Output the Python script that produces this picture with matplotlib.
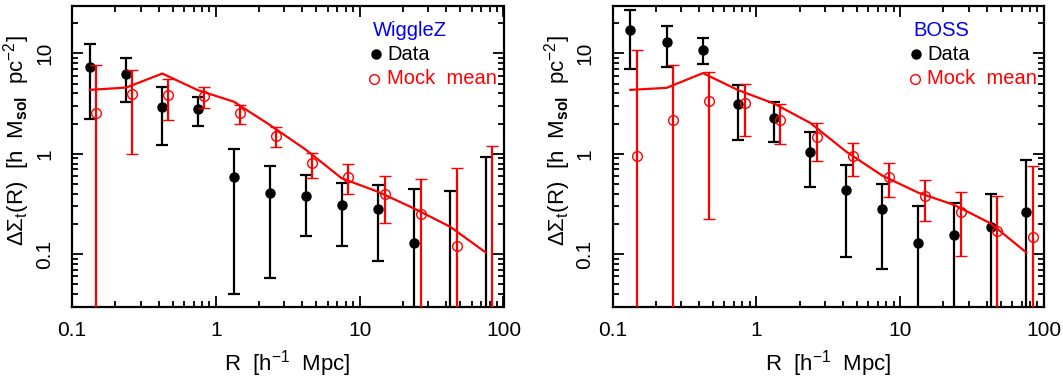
import numpy as np
import matplotlib
matplotlib.use("Agg")
import matplotlib.pyplot as plt

plt.rcParams['font.family'] = ['Liberation Sans', 'DejaVu Sans']
plt.rcParams['mathtext.fontset'] = 'custom'
plt.rcParams['mathtext.rm'] = 'Liberation Sans'
plt.rcParams['mathtext.it'] = 'Liberation Sans:italic'
plt.rcParams['mathtext.bf'] = 'Liberation Sans:bold'

# ---------------- data ----------------
r_data = [0.133, 0.238, 0.425, 0.75, 1.33, 2.37, 4.22, 7.5, 13.35, 23.8, 42.5, 75.3]
r_mock = [0.148, 0.263, 0.466, 0.832, 1.47, 2.63, 4.67, 8.3, 14.9, 26.5, 47.2, 83.7]

# WiggleZ
wz_data = [7.3, 6.3, 2.9, 2.77, 0.585, 0.41, 0.377, 0.31, 0.284, 0.128, 0.02, 0.02]
wz_data_hi = [12.5, 9.1, 4.6, 3.66, 1.12, 0.76, 0.61, 0.51, 0.486, 0.447, 0.43, 0.93]
wz_data_lo = [2.24, 3.3, 1.21, 1.89, 0.04, 0.058, 0.151, 0.121, 0.086, 0.005, 0.005, 0.005]
wz_mock = [2.53, 3.95, 3.89, 3.74, 2.53, 1.5, 0.81, 0.593, 0.40, 0.253, 0.12, 0.02]
wz_mock_hi = [7.6, 6.87, 5.58, 4.64, 3.04, 1.83, 1.02, 0.79, 0.60, 0.56, 0.73, 1.19]
wz_mock_lo = [0.005, 1.0, 2.19, 2.84, 1.98, 1.16, 0.58, 0.40, 0.206, 0.005, 0.005, 0.005]
wz_line = [4.33, 4.57, 6.3, 4.3, 3.31, 1.94, 1.1, 0.57, 0.42, 0.286, 0.188, 0.104]

# BOSS
bo_data = [17.1, 12.9, 10.9, 3.11, 2.29, 1.05, 0.436, 0.284, 0.129, 0.155, 0.188, 0.261]
bo_data_hi = [27.1, 18.6, 14.1, 4.86, 3.26, 1.63, 0.78, 0.505, 0.30, 0.321, 0.40, 0.87]
bo_data_lo = [6.97, 7.4, 7.82, 1.36, 1.32, 0.468, 0.094, 0.0713, 0.005, 0.005, 0.005, 0.005]
bo_mock = [0.948, 2.17, 3.39, 3.24, 2.19, 1.46, 0.948, 0.593, 0.38, 0.261, 0.171, 0.150]
bo_mock_hi = [10.9, 7.7, 6.6, 5.0, 3.14, 2.01, 1.29, 0.807, 0.55, 0.417, 0.377, 0.76]
bo_mock_lo = [0.005, 0.005, 0.224, 1.5, 1.24, 0.857, 0.607, 0.374, 0.212, 0.097, 0.005, 0.005]
bo_line = [4.33, 4.54, 6.36, 4.3, 3.16, 2.03, 1.05, 0.607, 0.41, 0.309, 0.203, 0.104]

panels = [
    ("WiggleZ", wz_data, wz_data_hi, wz_data_lo, wz_mock, wz_mock_hi, wz_mock_lo, wz_line),
    ("BOSS", bo_data, bo_data_hi, bo_data_lo, bo_mock, bo_mock_hi, bo_mock_lo, bo_line),
]

x_ticks = [0.1, 1, 10, 100]
x_ticklabels = ["0.1", "1", "10", "100"]
y_ticks = [0.1, 1, 10]
y_ticklabels = ["0.1", "1", "10"]

W, H = 1063, 377
fig = plt.figure(figsize=(W / 100, H / 100), dpi=100)
lefts = [72, 612.5]
FS = 14.5

for (name, d, dhi, dlo, m, mhi, mlo, line), lp in zip(panels, lefts):
    ax = fig.add_axes([lp / W, 1 - 306.7 / H, 431.5 / W, 301.2 / H])
    d = np.array(d); dhi = np.array(dhi); dlo = np.array(dlo)
    m = np.array(m); mhi = np.array(mhi); mlo = np.array(mlo)
    ax.set_xscale('log')
    ax.set_yscale('log')
    ax.errorbar(r_data, d, yerr=[d - dlo, dhi - d], fmt='o', color='black',
                ms=6.5, capsize=4, elinewidth=1.6, capthick=1.6, zorder=3)
    ax.plot(r_data, line, '-', color='red', lw=1.6, zorder=4)
    ax.errorbar(r_mock, m, yerr=[m - mlo, mhi - m], fmt='o', color='red',
                mfc='none', mec='red', mew=1.0, ms=7, capsize=4,
                elinewidth=1.6, capthick=1.6, zorder=5)
    ax.set_xlim(0.1, 100)
    ax.set_ylim(0.03, 30)
    ax.set_xticks(x_ticks)
    ax.set_xticklabels(x_ticklabels)
    ax.set_yticks(y_ticks)
    ax.set_yticklabels(y_ticklabels, rotation=90, va='center')
    ax.tick_params(which='both', direction='in', top=True, right=True, width=1.3)
    ax.tick_params(which='major', length=8, labelsize=FS + 0.5, pad=10)
    ax.tick_params(axis='y', which='major', pad=13)
    ax.tick_params(which='minor', length=4)
    for s in ax.spines.values():
        s.set_linewidth(1.6)
    ax.set_xlabel(r'R  [h$^{-1}$  Mpc]', fontsize=16)
    ax.xaxis.set_label_coords(0.5, -0.137)
    ax.set_ylabel(r'$\Delta\Sigma_{\rm t}$(R)  [h  M$_{\bf sol}$  pc$^{-2}$]', fontsize=16)
    ax.yaxis.set_label_coords(-0.092, 0.553)

    # legend
    ax.text(0.697, 0.916, name, color='blue', fontsize=FS, ha='left', va='center',
            transform=ax.transAxes)
    ax.plot([0.704], [0.838], 'o', color='black', ms=6.5, transform=ax.transAxes, clip_on=False)
    ax.text(0.730, 0.838, "Data", color='black', fontsize=FS, ha='left', va='center',
            transform=ax.transAxes)
    ax.plot([0.700], [0.757], 'o', mfc='none', mec='red', mew=1.0, ms=7,
            transform=ax.transAxes, clip_on=False)
    ax.text(0.730, 0.757, "Mock  mean", color='red', fontsize=FS, ha='left', va='center',
            transform=ax.transAxes)

fig.savefig("out.png", dpi=100)
